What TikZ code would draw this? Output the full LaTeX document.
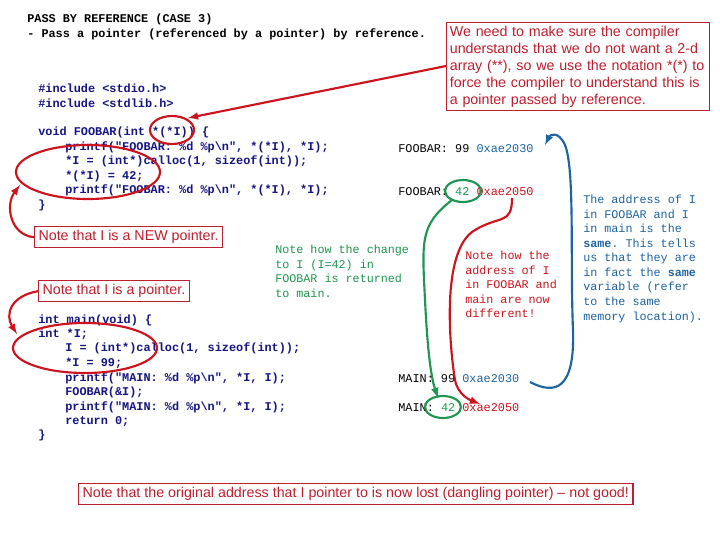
\documentclass[tikz,border=0pt]{standalone}
\usepackage{fontspec}
\setmainfont{Liberation Sans}
\setmonofont{Liberation Mono}
\begin{document}
\begin{tikzpicture}[x=0.75pt,y=-0.75pt,
  code/.style={anchor=base west,inner sep=0,font=\ttfamily\bfseries\fontsize{8.9}{10.9}\selectfont,text=codeblue},
  outtxt/.style={anchor=base west,inner sep=0,font=\ttfamily\fontsize{8.9}{10.9}\selectfont},
  note/.style={anchor=north west,inner sep=0,align=left,font=\ttfamily\fontsize{8.8}{10.9}\selectfont},
  rbox/.style={draw=boxred,line width=0.8pt,text=boxred,font=\fontsize{10.7}{12.8}\selectfont,inner sep=3pt},
  ring/.style={line width=1.6pt},
  arr/.style={line width=1.6pt,-latex}]
\definecolor{codeblue}{RGB}{20,20,130}
\definecolor{boxred}{RGB}{190,30,45}
\definecolor{redarr}{RGB}{205,20,30}
\definecolor{gr}{RGB}{30,150,80}
\definecolor{bl}{RGB}{30,100,160}
\useasboundingbox (0,0) rectangle (720,540);
\fill[white] (0,0) rectangle (720,540);
% header
\node[code,text=black] (h1) at (27,22) {PASS BY REFERENCE (CASE 3)};
\node[code,text=black] (h2) at (27,37) {- Pass a pointer (referenced by a pointer) by reference.};
\node[code] (i1) at (38,92) {\#include <stdio.h>};
\node[code] (i2) at (38,107) {\#include <stdlib.h>};
% FOOBAR
\node[code] (f1) at (38,135) {void FOOBAR(int *(*I)) \{};
\node[code] (f2) at (65,150) {printf("FOOBAR: \%d \%p\textbackslash n", *(*I), *I);};
\node[code] (f3) at (65,164) {*I = (int*)calloc(1, sizeof(int));};
\node[code] (f4) at (65,179) {*(*I) = 42;};
\node[code] (f5) at (65,193) {printf("FOOBAR: \%d \%p\textbackslash n", *(*I), *I);};
\node[code] (f6) at (38,208) {\}};
% main
\node[code] (m1) at (38,323) {int main(void) \{};
\node[code] (m2) at (38,337) {int *I;};
\node[code] (m3) at (65,351) {I = (int*)calloc(1, sizeof(int));};
\node[code] (m4) at (65,366) {*I = 99;};
\node[code] (m5) at (65,381) {printf("MAIN: \%d \%p\textbackslash n", *I, I);};
\node[code] (m6) at (65,395) {FOOBAR(\&I);};
\node[code] (m7) at (65,410) {printf("MAIN: \%d \%p\textbackslash n", *I, I);};
\node[code] (m8) at (65,424) {return 0;};
\node[code] (m9) at (38,438) {\}};
% outputs
\node[outtxt] (o1) at (398,152) {FOOBAR: 99 \textcolor{bl}{0xae2030}};
\node[outtxt] (o2) at (398,195) {FOOBAR: \textcolor{gr}{42} \textcolor{redarr}{0xae2050}};
\node[outtxt] (o3) at (398,382) {MAIN: 99 \textcolor{bl}{0xae2030}};
\node[outtxt] (o4) at (398,411) {MAIN: \textcolor{gr}{42} \textcolor{redarr}{0xae2050}};
% notes
\node[note,text=gr] (gn) at (275,245) {Note how the change\\to I (I=42) in\\FOOBAR is returned\\to main.};
\node[note,text=redarr] (rn) at (465,251) {Note how the\\address of I\\in FOOBAR and\\main are now\\different!};
\node[note,text=bl] (bn) at (583,195) {The address of I\\in FOOBAR and I\\in main is the\\\textbf{same}. This tells\\us that they are\\in fact the \textbf{same}\\variable (refer\\to the same\\memory location).};
% boxes
\node[rbox,anchor=north west,align=left,text width=192pt,inner sep=2.5pt,font=\fontsize{10.7}{12.75}\selectfont] (tb) at (446,22) {We need to make sure the compiler understands that we do not want a 2-d array (**), so we use the notation *(*) to force the compiler to understand this is a pointer passed by reference.};
\node[rbox,anchor=north west] (nb1) at (34,226) {Note that I is a NEW pointer.};
\node[rbox,anchor=north west] (nb2) at (38,280) {Note that I is a pointer.};
\node[rbox,anchor=north west] (bb) at (78,483) {Note that the original address that I pointer to is now lost (dangling pointer) -- not good!};
% rings
\draw[redarr,ring] (172,130) ellipse (22 and 14);
\draw[redarr,ring] (88,172) ellipse (72 and 27);
\draw[redarr,ring] (85,348) ellipse (72 and 25);
\draw[gr,ring] (463,191) ellipse (18 and 11);
\draw[gr,ring] (443,407) ellipse (18 and 11);
% arrows
\coordinate (e1) at (188,118);
\coordinate (e2) at (20,185);
\coordinate (e3) at (17,334);
\draw[redarr,arr] (tb.west|-0,66) -- (e1);
\draw[redarr,arr] (nb1.west) .. controls (10,235) and (5,205) .. (e2);
\draw[redarr,arr] (nb2.west) .. controls (10,296) and (5,315) .. (e3);
\coordinate (g1) at (452,200);
\coordinate (g2) at (438,398);
\draw[gr,arr] (g1) .. controls (420,225) and (422,240) .. (425,300) .. controls (428,360) and (432,380) .. (g2);
\coordinate (r1) at (512,198);
\coordinate (r2) at (480,404);
\draw[redarr,arr] (r1) .. controls (512,225) and (500,215) .. (475,230) .. controls (440,250) and (450,350) .. (455,380) .. controls (458,395) and (470,400) .. (r2);
\coordinate (b1) at (530,382);
\coordinate (b2) at (545,145);
\draw[bl,arr] (b1) .. controls (555,395) and (575,390) .. (573,330) .. controls (570,260) and (575,170) .. (565,145) .. controls (558,130) and (550,135) .. (b2);
\end{tikzpicture}
\end{document}
